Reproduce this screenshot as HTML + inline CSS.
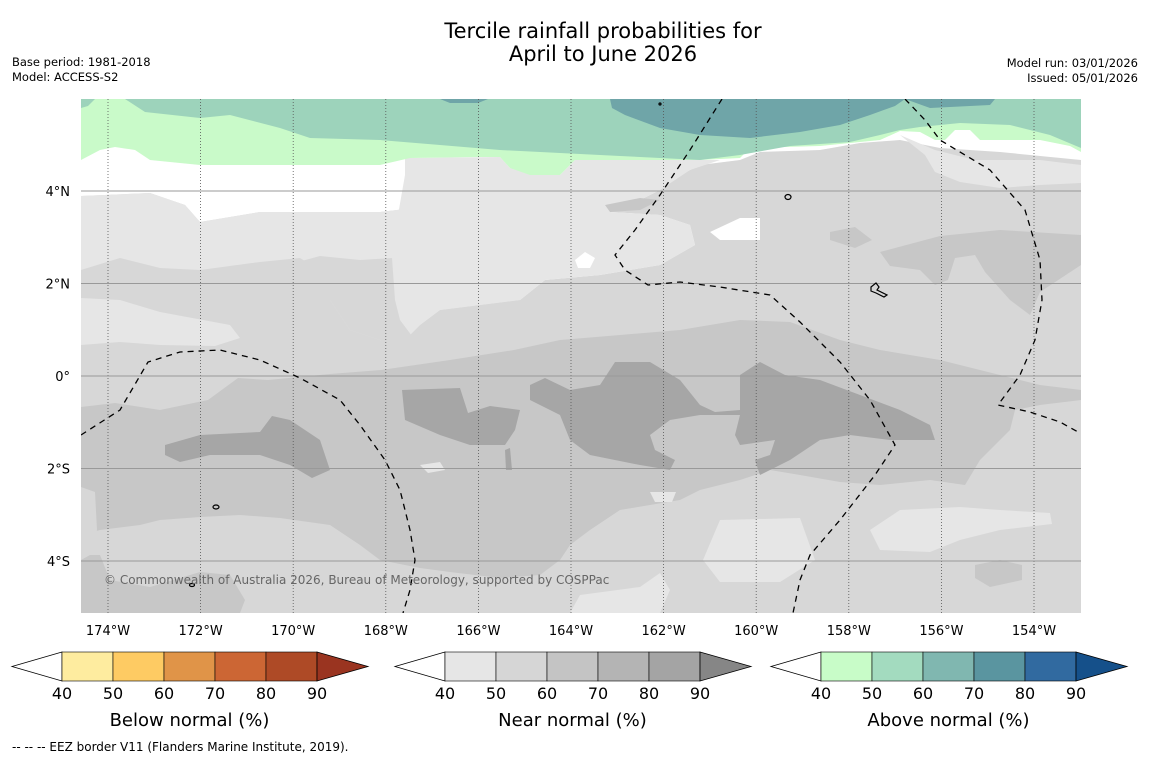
<!DOCTYPE html>
<html><head><meta charset="utf-8"><style>
body{margin:0;background:#fff;}
svg text{font-family:"DejaVu Sans","Liberation Sans",sans-serif;}
</style></head><body>
<svg id="fig" width="1150" height="758" viewBox="0 0 1150 758" xmlns="http://www.w3.org/2000/svg">
<rect width="1150" height="758" fill="#fff"/>
<text x="603" y="38" font-size="21" text-anchor="middle">Tercile rainfall probabilities for</text>
<text x="603" y="61" font-size="21" text-anchor="middle">April to June 2026</text>
<text x="12" y="66" font-size="11.5">Base period: 1981-2018</text>
<text x="12" y="81" font-size="11.5">Model: ACCESS-S2</text>
<text x="1138" y="67" font-size="11.5" text-anchor="end">Model run: 03/01/2026</text>
<text x="1138" y="82" font-size="11.5" text-anchor="end">Issued: 05/01/2026</text>
<defs><clipPath id="mc"><rect x="81" y="99" width="1000" height="514"/></clipPath></defs>
<g id="map" clip-path="url(#mc)">
<rect x="81" y="99" width="1000" height="514" fill="#d7d7d7"/>
<polygon fill="#ffffff" points="81,99 1081,99 1081,160 1000,152 940,148 900,140 860,143 820,150 760,152 740,160 700,165 680,175 660,190 640,200 605,205 610,212 660,215 690,225 695,245 660,265 600,275 545,280 520,300 440,225 470,215 440,205 380,212 260,212 200,222 185,205 150,193 81,196"/>
<polygon fill="#e6e6e6" points="81,196 150,193 185,205 200,222 260,212 380,212 440,205 470,212 440,218 405,222 395,232 405,175 405,158 500,157 510,168 560,175 575,160 700,160 720,160 690,170 660,190 640,200 605,205 610,212 660,215 690,225 695,245 660,265 600,275 545,280 520,300 440,310 420,325 400,345 380,340 350,330 330,300 320,270 300,258 260,262 200,270 160,268 120,258 81,270"/>
<polygon fill="#e6e6e6" points="395,232 440,220 520,300 440,310 420,325 400,345 380,340 390,300"/>
<polygon fill="#d7d7d7" points="298,262 320,256 360,260 392,258 395,300 400,320 415,340 400,348 380,340 350,330 330,300"/>
<polygon fill="#e6e6e6" points="81,298 120,300 160,312 230,325 240,338 215,346 160,345 120,342 81,345"/>
<polygon fill="#e6e6e6" points="900,135 935,150 975,160 1040,160 1081,165 1081,183 1040,185 1000,188 960,182 935,172 925,155"/>
<polygon fill="#ffffff" points="575,260 585,252 595,258 590,268 578,268"/>
<polygon fill="#ffffff" points="710,232 740,218 760,218 760,240 720,240"/>
<polygon fill="#e6e6e6" points="703,560 720,520 800,518 815,560 780,582 720,582"/>
<polygon fill="#e6e6e6" points="870,530 900,510 960,507 1000,510 1050,513 1052,524 1000,530 960,540 930,552 880,550"/>
<polygon fill="#e6e6e6" points="570,613 580,595 640,587 660,573 670,590 660,613"/>
<polygon fill="#c7c7c7" points="81,407 115,403 160,410 208,400 238,378 268,380 330,374 381,370 450,360 514,350 560,340 620,335 680,330 740,320 790,322 840,340 880,350 940,360 1000,375 1040,385 1081,390 1081,400 1040,405 1015,410 1010,430 980,460 965,485 930,480 880,485 840,482 800,475 770,470 740,480 700,490 680,500 650,505 620,510 590,530 570,545 560,560 540,575 500,578 450,572 420,568 380,560 360,545 330,525 280,518 240,515 200,517 160,520 140,525 100,530 81,535"/>
<polygon fill="#c7c7c7" points="81,555 100,555 110,580 150,587 200,572 230,575 245,600 240,613 81,613"/>
<polygon fill="#d7d7d7" points="81,487 95,492 97,530 90,555 81,560"/>
<polygon fill="#c7c7c7" points="830,232 855,227 872,240 855,248 830,240"/>
<polygon fill="#c7c7c7" points="880,252 940,236 1000,230 1081,235 1081,265 1040,292 1030,315 1010,300 985,272 975,255 955,258 948,280 935,285 920,270 890,266"/>
<polygon fill="#c7c7c7" points="605,205 640,198 660,200 640,210 610,212"/>
<polygon fill="#c7c7c7" points="975,565 1000,560 1022,565 1022,580 990,587 975,578"/>
<polygon fill="#d7d7d7" points="925,340 935,333 950,345 940,358 926,354"/>
<polygon fill="#a6a6a6" points="165,445 200,435 260,432 272,416 290,420 320,440 330,470 312,478 290,465 260,455 210,455 180,462 165,455"/>
<polygon fill="#a6a6a6" points="402,390 460,388 468,413 490,406 520,410 515,430 505,445 470,445 440,435 405,420"/>
<polygon fill="#a6a6a6" points="530,385 545,378 570,390 600,385 615,362 650,362 680,380 700,405 715,412 740,410 740,375 760,362 785,375 820,380 860,395 900,410 930,425 935,440 890,440 850,435 820,440 790,460 760,475 755,460 770,455 775,440 740,445 735,435 740,415 700,415 670,420 650,435 655,450 675,460 670,470 640,465 590,455 570,440 560,415 530,400"/>
<polygon fill="#a6a6a6" points="505,450 510,448 512,470 506,470"/>
<polygon fill="#e6e6e6" points="420,465 440,462 445,470 428,473"/>
<polygon fill="#e6e6e6" points="650,492 676,492 672,502 655,502"/>
<polygon fill="#c9fac9" points="81,99 1081,99 1081,152 1070,146 1040,140 980,140 970,130 955,130 945,140 935,140 920,132 900,131 880,140 820,146 750,148 740,158 700,160 575,160 560,175 530,175 510,168 500,157 480,157 410,158 380,165 300,165 200,165 150,160 135,150 115,147 100,150 81,160"/>
<polygon fill="#9dd3bb" points="125,99 1081,99 1081,148 1050,135 1010,125 960,123 920,127 900,130 880,135 850,142 790,146 740,155 700,160 620,156 560,153 500,150 440,145 380,140 310,138 280,128 230,115 200,118 145,112"/>
<polygon fill="#9dd3bb" points="81,99 95,99 88,106 81,108"/>
<polygon fill="#6fa5a8" points="610,99 905,99 895,106 870,115 840,125 800,132 750,138 700,135 660,128 625,115 612,108"/>
<polygon fill="#6fa5a8" points="905,99 995,99 990,105 930,108"/>
<polygon fill="#6fa5a8" points="440,99 488,99 478,103 450,103"/>
<g id="grid"></g>
<g fill="none" stroke="#000" stroke-width="1.3" stroke-dasharray="6,5">
<polyline points="81,435 120,410 148,362 180,352 220,350 260,360 300,378 340,400 360,425 385,460 400,490 410,530 415,560 410,590 403,613"/>
<polyline points="722,99 690,150 660,195 635,230 615,255 625,270 648,285 680,282 720,287 770,295 800,322 840,362 870,400 895,445 875,475 840,520 810,555 800,580 793,613"/>
<polyline points="905,99 925,120 940,140 990,170 1025,210 1040,260 1042,300 1035,340 1020,375 998,405 1030,412 1060,422 1078,432"/>
</g>
<g fill="none" stroke="#000" stroke-width="1.2">
<ellipse cx="788" cy="197" rx="3" ry="2.5"/>
<path d="M871,287 l5,-4 3,4 -2,3 10,5 -3,2 -8,-4 -5,-2z"/>
<ellipse cx="216" cy="507" rx="3" ry="2"/>
<ellipse cx="192" cy="585" rx="2.5" ry="1.5"/>
<circle cx="660" cy="104" r="1"/>
</g>
<text x="104" y="584" font-size="12" fill="#666">© Commonwealth of Australia 2026, Bureau of Meteorology, supported by COSPPac</text>
</g>
<g id="axes"></g>
<g id="cbars"></g>
<text x="12" y="751" font-size="12">--  --  -- EEZ border V11 (Flanders Marine Institute, 2019).</text>
</svg>
<script>
const lonTicks=[174,172,170,168,166,164,162,160,158,156,154];
const latTicks=[4,2,0,-2,-4];
const cbLevels=[40,50,60,70,80,90];
const belowColors=["#feec9f","#fecb63","#e09448","#cc6634","#ae4a26"];
const nearColors=["#e6e6e6","#d6d6d6","#c4c4c4","#b4b4b4","#a4a4a4"];
const aboveColors=["#c8fcc8","#a3dbbf","#80b7b0","#5a95a0","#316aa0"];
const cbTitles=["Below normal (%)","Near normal (%)","Above normal (%)"];
const NS="http://www.w3.org/2000/svg";
function xLon(w){return 108+(174-w)*46.3;}
function yLat(l){return 376-l*46.25;}
function mk(t,a,p){const e=document.createElementNS(NS,t);for(const k in a)e.setAttribute(k,a[k]);p.appendChild(e);return e;}
const grid=document.getElementById('grid'),axes=document.getElementById('axes');
lonTicks.forEach(w=>{
  const l=mk('line',{x1:xLon(w),x2:xLon(w),y1:99,y2:613,stroke:'#555','stroke-width':0.8,'stroke-dasharray':'1,2'},grid);
  
  
  const t=mk('text',{x:xLon(w),y:635,'font-size':13,'text-anchor':'middle'},axes);
  t.textContent=w+'°W';
  
  
});
latTicks.forEach(l=>{
  const g=mk('line',{x1:81,x2:1081,y1:yLat(l),y2:yLat(l),stroke:'#999','stroke-width':1},grid);
  
  
  const t=mk('text',{x:70,y:yLat(l)+5,'font-size':13,'text-anchor':'end'},axes);
  t.textContent=l===0?'0°':Math.abs(l)+'°'+(l>0?'N':'S');
  
  
});
const cb=document.getElementById('cbars');
const sets=[[belowColors,'#9a3420',62],[nearColors,'#868686',445],[aboveColors,'#15508a',821]];
sets.forEach((s,i)=>{
  const x0=s[2],w=51,y0=652,h=29,xe=x0+w*5;
  const g=mk('g',{},cb);
  
  
  const la=mk('polygon',{points:`${x0},${y0} ${x0-50},${y0+h/2} ${x0},${y0+h}`,fill:'#fff',stroke:'#000','stroke-width':0.8},g);
  
  
  s[0].forEach((c,j)=>{
    const r=mk('rect',{x:x0+j*w,y:y0,width:w,height:h,fill:c,stroke:'#000','stroke-width':0.6},g);
    
    
  });
  const ra=mk('polygon',{points:`${xe},${y0} ${xe+51},${y0+h/2} ${xe},${y0+h}`,fill:s[1],stroke:'#000','stroke-width':0.8},g);
  
  
  cbLevels.forEach((v,j)=>{
    const t=mk('text',{x:x0+j*w,y:699,'font-size':16,'text-anchor':'middle'},g);
    t.textContent=v;
    
    
  });
  const tt=mk('text',{x:x0+w*2.5,y:726,'font-size':18,'text-anchor':'middle'},g);
  tt.textContent=cbTitles[i];
  
  
});
</script>
</body></html>
